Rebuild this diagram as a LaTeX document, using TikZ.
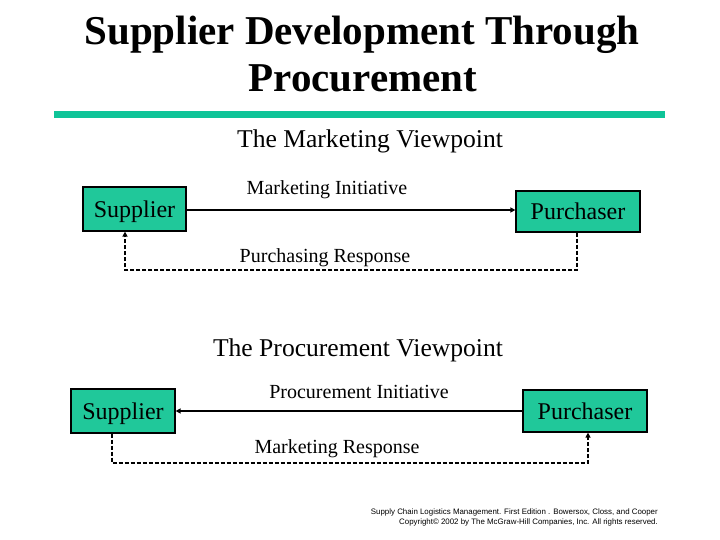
\documentclass[tikz,border=0pt]{standalone}
\usepackage{fontspec}
\setmainfont{Liberation Serif}
\newfontfamily\footfont{Liberation Sans}
\usetikzlibrary{arrows.meta}
\definecolor{boxgreen}{RGB}{32,200,154}
\definecolor{linegreen}{RGB}{14,196,152}
\tikzset{
  box/.style={draw=black, line width=1.2pt, fill=boxgreen, inner sep=0pt, text depth=0pt, font=\fontsize{24}{28}\selectfont},
  lbl/.style={anchor=base, inner sep=0pt, font=\fontsize{20}{24}\selectfont},
  head/.style={anchor=base, inner sep=0pt, font=\fontsize{25.6}{30}\selectfont},
  title/.style={anchor=base, inner sep=0pt, font=\fontsize{41}{48}\selectfont\bfseries},
  solidarrow/.style={line width=1.4pt, -{Triangle[length=5pt,width=5pt]}},
  dasharrow/.style={line width=1.3pt, dash pattern=on 4pt off 2pt, -{Triangle[length=5pt,width=5pt]}},
  foot/.style={anchor=base east, inner sep=0pt, font=\footfont\fontsize{7.9}{9}\selectfont}
}
\begin{document}
\begin{tikzpicture}[x=1pt,y=-1pt]
\useasboundingbox (0,0) rectangle (720,540);
\node[title] (t1) at (362,45) {Supplier Development Through};
\node[title] (t2) at (363,92) {Procurement};
\fill[linegreen] (54,111) rectangle (665,118);

\node[head] (h1) at (370,148) {The Marketing Viewpoint};
\node[box, minimum width=103pt, minimum height=44pt] (s1) at (134.5,209) {Supplier};
\node[box, minimum width=124pt, minimum height=41pt] (p1) at (578,211.5) {Purchaser};
\node[lbl] (mi) at (327,195) {Marketing Initiative};
\node[lbl] (pr) at (325,262) {Purchasing Response};
\coordinate (d1a) at (577,270);
\coordinate (d1b) at (125,270);
\draw[solidarrow] (s1.east |- 0,210) -- (p1.west |- 0,210);
\draw[dasharrow] (p1.south -| d1a) -- (d1a) -- (d1b) -- (s1.south -| d1b);

\node[head] (h2) at (358,356) {The Procurement Viewpoint};
\node[box, minimum width=104pt, minimum height=44pt] (s2) at (123,411) {Supplier};
\node[box, minimum width=124pt, minimum height=42pt] (p2) at (585,411) {Purchaser};
\node[lbl] (pi) at (359,398) {Procurement Initiative};
\node[lbl] (mr) at (337,453) {Marketing Response};
\coordinate (d2a) at (112,463);
\coordinate (d2b) at (588,463);
\draw[solidarrow] (p2.west) -- (s2.east);
\draw[dasharrow] (s2.south -| d2a) -- (d2a) -- (d2b) -- (p2.south -| d2b);

\node[foot] (f1) at (658,514) {Supply Chain Logistics Management. First Edition . Bowersox, Closs, and Cooper};
\node[foot] (f2) at (658,524) {Copyright\textcopyright{} 2002 by The McGraw-Hill Companies, Inc. All rights reserved.};
\end{tikzpicture}
\end{document}
